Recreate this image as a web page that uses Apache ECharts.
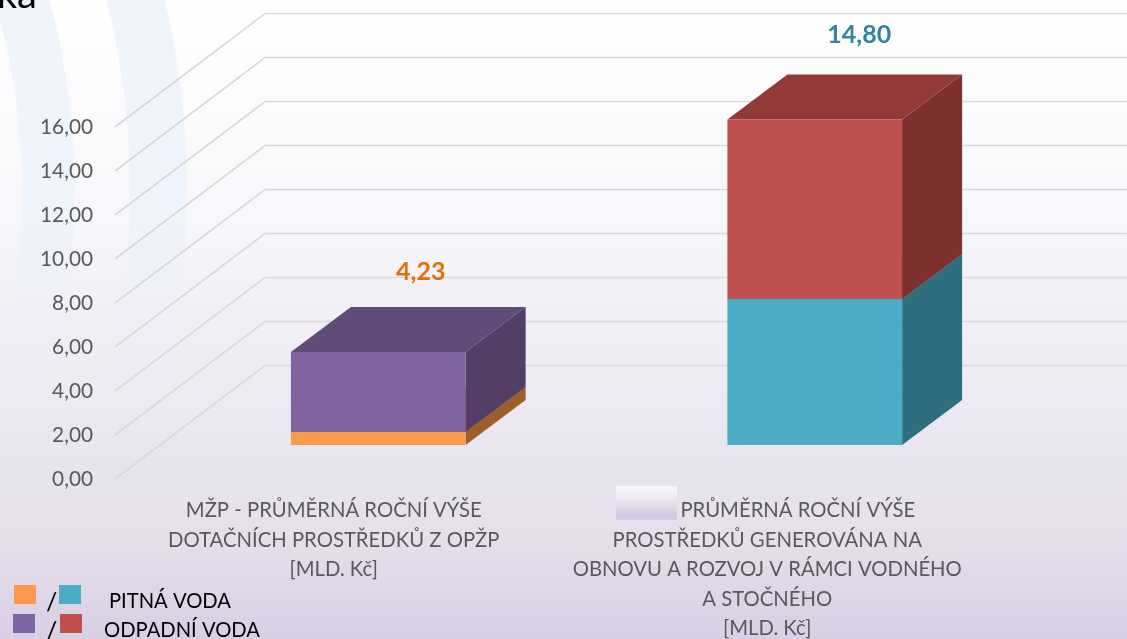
<!DOCTYPE html>
<html>
<head>
<meta charset="utf-8">
<style>html,body{margin:0;padding:0;width:1127px;height:639px;overflow:hidden}#c{width:1127px;height:639px}</style>
<script src="https://cdn.jsdelivr.net/npm/echarts@6/dist/echarts.min.js"></script>
</head>
<body>
<div id="c"></div>
<script>
const categories = [
  'MŽP - PRŮMĚRNÁ ROČNÍ VÝŠE\nDOTAČNÍCH PROSTŘEDKŮ Z OPŽP\n[MLD. Kč]',
  '{patch|}PRŮMĚRNÁ ROČNÍ VÝŠE\nPROSTŘEDKŮ GENEROVÁNA NA\nOBNOVU A ROZVOJ V RÁMCI VODNÉHO\nA STOČNÉHO\n[MLD. Kč]'
];
const yTicks = [0, 2, 4, 6, 8, 10, 12, 14, 16];
const pitnaVoda = [0.59, 6.64];
const odpadniVoda = [3.64, 8.16];
const totals = ['4,23', '14,80'];
const totalColors = ['#E46C0A', '#31859C'];

const pitnaFront = ['#FB994A', '#4BACC6'];
const pitnaSide = ['#9C5F2A', '#2F6E7F'];
const pitnaTop = ['#B06C30', '#378094'];
const odpadFront = ['#8064A2', '#C0504D'];
const odpadSide = ['#533E66', '#7D302E'];
const odpadTop = ['#604B79', '#923A38'];

const wallDX = 150, wallDY = 113.5;          // axis front edge -> back wall
const wallLeftShift = 2;                     // grid lines start left of the grid
const barDXs = [44.5, 47.5], barDY = 34;     // axis front edge -> bar front face
const sideDX = 60, sideDY = 45;              // bar depth
const totalDX = [42.5, 44.5], totalDY = [80, 84];

function fmt(v) { return v.toFixed(2).replace('.', ','); }

function gridItem(params, api) {
  const p = api.coord([0, api.value(1)]);
  const x0 = params.coordSys.x - wallLeftShift;
  return {
    type: 'polyline',
    silent: true,
    shape: { points: [[x0, p[1]], [x0 + wallDX, p[1] - wallDY], [api.getWidth(), p[1] - wallDY]] },
    style: { stroke: '#d9d9d9', lineWidth: 1.6, fill: null }
  };
}

function boxItem(front, side, top) {
  return function (params, api) {
    const cat = api.value(0), base = api.value(1), val = api.value(2);
    const a = api.coord([cat, base]);
    const b = api.coord([cat, base + val]);
    const w = api.size([1, 0])[0] * 0.403;
    const l = a[0] + barDXs[cat] - w / 2, r = l + w;
    const yb = a[1] - barDY, yt = b[1] - barDY;
    const i = params.dataIndex;
    return {
      type: 'group',
      children: [
        { type: 'polygon', shape: { points: [[l, yt], [r, yt], [r + sideDX, yt - sideDY], [l + sideDX, yt - sideDY]] }, style: { fill: top[i] } },
        { type: 'polygon', shape: { points: [[r, yb], [r + sideDX, yb - sideDY], [r + sideDX, yt - sideDY], [r, yt]] }, style: { fill: side[i] } },
        { type: 'rect', shape: { x: l, y: yt, width: w, height: yb - yt }, style: { fill: front[i] } }
      ]
    };
  };
}

function totalItem(params, api) {
  const i = params.dataIndex;
  const p = api.coord([api.value(0), api.value(1)]);
  return {
    type: 'text',
    style: {
      x: p[0] + barDXs[i] + totalDX[i], y: p[1] - barDY - totalDY[i],
      text: totals[i], fill: totalColors[i],
      font: 'bold 25px Lato', align: 'center', verticalAlign: 'middle'
    }
  };
}

function ring(r0, r) {
  return {
    type: 'ring', z: -1, silent: true,
    shape: { cx: -643, cy: 190, r: r, r0: r0 },
    style: {
      fill: new echarts.graphic.LinearGradient(0, 0, 0, 400, [
        { offset: 0, color: 'rgba(232,240,251,0.65)' },
        { offset: 0.5, color: 'rgba(232,240,251,0.55)' },
        { offset: 1, color: 'rgba(232,240,251,0)' }
      ], true)
    }
  };
}
function swatch(x, y, color) {
  return { type: 'rect', shape: { x: x, y: y, width: 22, height: 19 }, style: { fill: color } };
}
function txt(x, y, text, size) {
  return { type: 'text', style: { x: x, y: y, text: text, fill: '#000', font: size + 'px Lato', verticalAlign: 'middle' } };
}

const chart = echarts.init(document.getElementById('c'), null, { renderer: 'canvas' });
chart.setOption({
  animation: false,
  backgroundColor: new echarts.graphic.LinearGradient(0, 0, 0, 1, [
    { offset: 0, color: '#ffffff' },
    { offset: 0.35, color: '#f7f6fa' },
    { offset: 0.85, color: '#e4dfeb' },
    { offset: 1, color: '#d8cfe3' }
  ]),
  grid: { left: 117, width: 867, top: 127, height: 352, outerBoundsMode: 'none' },
  xAxis: {
    type: 'category',
    data: categories,
    axisLine: { show: false },
    axisTick: { show: false },
    axisLabel: {
      interval: 0, color: '#595959', fontFamily: 'Lato', fontSize: 20.3,
      lineHeight: 29.5, margin: 17, align: 'center',
      rich: { patch: { width: 61, height: 20 } }
    }
  },
  yAxis: {
    type: 'value', min: 0, max: 16, interval: 2,
    axisLine: { show: false },
    axisTick: { show: false },
    splitLine: { show: false },
    axisLabel: { color: '#595959', fontFamily: 'Lato', fontSize: 20.8, margin: 24, padding: [2, 0, 0, 0], formatter: fmt }
  },
  graphic: [
    ring(665, 718),
    ring(773, 830),
    { type: 'text', style: { x: 37, y: 15, text: 'ka', fill: '#000', font: '40px Lato', align: 'right', verticalAlign: 'bottom' } },
    {
      type: 'rect', shape: { x: 616, y: 486, width: 61, height: 34 },
      style: {
        fill: new echarts.graphic.LinearGradient(0, 0, 0, 1, [
          { offset: 0, color: '#f5f9fd' },
          { offset: 0.35, color: '#eceaf2' },
          { offset: 0.85, color: '#d2c8df' },
          { offset: 1, color: '#c9d2e8' }
        ])
      }
    },
    swatch(14, 585, '#FB994A'), swatch(59, 585, '#4BACC6'),
    swatch(13, 614, '#8064A2'), swatch(60, 614, '#C0504D'),
    txt(46, 603, '/', 25), txt(46, 632, '/', 25),
    txt(109, 601, 'PITNÁ VODA', 20.2), txt(104, 630, 'ODPADNÍ VODA', 20.2)
  ],
  series: [
    { type: 'custom', name: 'grid', z: 1, silent: true, renderItem: gridItem, data: yTicks.map(v => [0, v]) },
    {
      type: 'custom', name: 'PITNÁ VODA', z: 2, silent: true,
      renderItem: boxItem(pitnaFront, pitnaSide, pitnaTop),
      encode: { x: 0, y: 2 },
      data: pitnaVoda.map((v, i) => [i, 0, v])
    },
    {
      type: 'custom', name: 'ODPADNÍ VODA', z: 3, silent: true,
      renderItem: boxItem(odpadFront, odpadSide, odpadTop),
      encode: { x: 0, y: 2 },
      data: odpadniVoda.map((v, i) => [i, pitnaVoda[i], v])
    },
    {
      type: 'custom', name: 'totals', z: 4, silent: true,
      renderItem: totalItem,
      encode: { x: 0, y: 1 },
      data: odpadniVoda.map((v, i) => [i, pitnaVoda[i] + v])
    }
  ]
});
</script>
</body>
</html>
